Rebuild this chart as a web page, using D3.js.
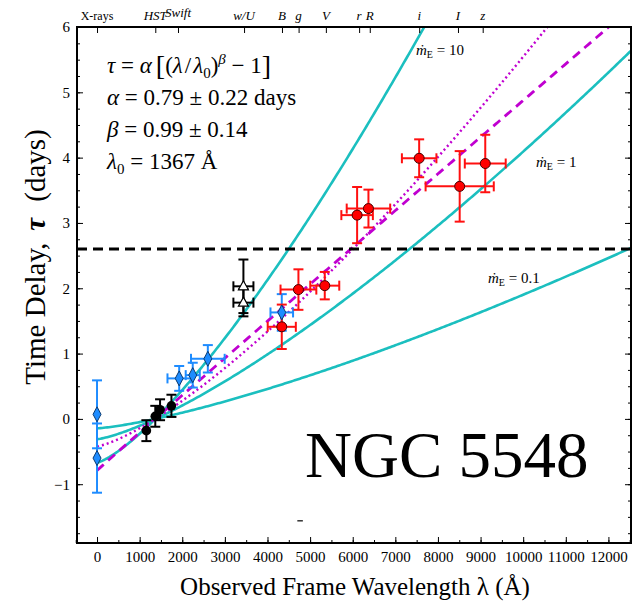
<!DOCTYPE html>
<html>
<head>
<meta charset="utf-8">
<script src="https://cdn.jsdelivr.net/npm/d3@7"></script>
<style>
  body { margin: 0; background: #fff; }
  text { font-family: "Liberation Serif", "Times New Roman", serif; }
</style>
</head>
<body>
<svg id="chart" width="635" height="603"></svg>
<script>
// band labels along the top
const bandNames = ["X-rays", "HST", "Swift", "w/U", "B", "g", "V", "r", "R", "i", "I", "z"];
const bandWaves = [0, 1367, 1900, 3450, 4340, 4730, 5370, 6150, 6400, 7560, 8470, 9050];

// X-ray diamonds
const xrayLam = [0, 0];
const xrayTau = [0.07, -0.60];
const xrayErr = [0.52, 0.53];

// HST black circles
const hstLam = [1158, 1367, 1479, 1746];
const hstTau = [-0.18, 0.04, 0.14, 0.20];
const hstErr = [0.16, 0.16, 0.16, 0.17];

// Swift blue diamonds
const swiftLam = [1928, 2246, 2600, 4335];
const swiftTau = [0.62, 0.67, 0.92, 1.63];
const swiftErr = [0.19, 0.19, 0.21, 0.28];
const swiftLamErr = [275, 165, 395, 265];

// Swift U open triangles
const triLam = [3435, 3435];
const triTau = [2.03, 1.78];
const triErr = [0.41, 0.21];
const triLamErr = [235, 235];

// ground-based red circles
const groundLam = [4335, 4726, 5344, 6103, 6369, 7559, 8510, 9110];
const groundTau = [1.41, 1.98, 2.04, 3.12, 3.22, 3.99, 3.56, 3.91];
const groundErr = [0.34, 0.31, 0.21, 0.43, 0.29, 0.29, 0.54, 0.44];
const groundLamErr = [330, 420, 340, 370, 510, 405, 800, 480];

// fits and disk models: tau = A[(lam/lam0)^b - 1]
const lam0 = 1367;
const fitAlpha = [0.79, 0.42];
const fitBeta = [0.99, 4 / 3];
const diskNames = ["10", "1", "0.1"];
const diskAmp = [0.668, 0.31, 0.144];
const lagLine = 2.6;

const margin = {top: 27, right: 4, bottom: 60, left: 77};
const width = 635, height = 603;

const svg = d3.select("#chart");

const x = d3.scaleLinear().domain([-470, 12530]).range([margin.left, width - margin.right]);
const y = d3.scaleLinear().domain([-1.9, 6]).range([height - margin.bottom, margin.top]);

svg.append("clipPath").attr("id", "plotclip")
  .append("rect")
  .attr("x", margin.left).attr("y", margin.top)
  .attr("width", width - margin.left - margin.right)
  .attr("height", height - margin.top - margin.bottom);

const plot = svg.append("g").attr("clip-path", "url(#plotclip)");

// model curves
const lamGrid = d3.range(0, 12601, 40);
const line = d3.line().x(d => x(d[0])).y(d => y(d[1]));

diskAmp.forEach(a => {
  plot.append("path")
    .datum(lamGrid.map(l => [l, a * (Math.pow(l / lam0, 4 / 3) - 1)]))
    .attr("d", line)
    .attr("fill", "none")
    .attr("stroke", "#1bbfbf")
    .attr("stroke-width", 2.6);
});

plot.append("path")
  .datum(lamGrid.map(l => [l, fitAlpha[1] * (Math.pow(l / lam0, fitBeta[1]) - 1)]))
  .attr("d", line)
  .attr("fill", "none")
  .attr("stroke", "#c000d0")
  .attr("stroke-width", 2.4)
  .attr("stroke-dasharray", "2,3");

plot.append("path")
  .datum(lamGrid.map(l => [l, fitAlpha[0] * (Math.pow(l / lam0, fitBeta[0]) - 1)]))
  .attr("d", line)
  .attr("fill", "none")
  .attr("stroke", "#c000d0")
  .attr("stroke-width", 2.8)
  .attr("stroke-dasharray", "9,6");

// horizontal lag line
plot.append("line")
  .attr("x1", margin.left).attr("x2", width - margin.right)
  .attr("y1", y(lagLine)).attr("y2", y(lagLine))
  .attr("stroke", "#000")
  .attr("stroke-width", 3)
  .attr("stroke-dasharray", "10,6");

// stray mark
plot.append("line")
  .attr("x1", x(4700)).attr("x2", x(4830))
  .attr("y1", y(-1.56)).attr("y2", y(-1.56))
  .attr("stroke", "#333").attr("stroke-width", 1.5);

// error bars
function errorBars(lams, taus, errs, lamErrs, color) {
  const g = plot.append("g").attr("stroke", color).attr("stroke-width", 2);
  lams.forEach((l, i) => {
    const cx = x(l), t = taus[i];
    const y1 = y(t + errs[i]), y2 = y(t - errs[i]);
    g.append("line").attr("x1", cx).attr("x2", cx).attr("y1", y1).attr("y2", y2);
    g.append("line").attr("x1", cx - 5).attr("x2", cx + 5).attr("y1", y1).attr("y2", y1);
    g.append("line").attr("x1", cx - 5).attr("x2", cx + 5).attr("y1", y2).attr("y2", y2);
    if (lamErrs && lamErrs[i] > 0) {
      const xa = x(l - lamErrs[i]), xb = x(l + lamErrs[i]), cy = y(t);
      g.append("line").attr("x1", xa).attr("x2", xb).attr("y1", cy).attr("y2", cy);
      g.append("line").attr("x1", xa).attr("x2", xa).attr("y1", cy - 5).attr("y2", cy + 5);
      g.append("line").attr("x1", xb).attr("x2", xb).attr("y1", cy - 5).attr("y2", cy + 5);
    }
  });
}

errorBars(xrayLam, xrayTau, xrayErr, null, "#1e8cff");
errorBars(hstLam, hstTau, hstErr, null, "#000");
errorBars(swiftLam, swiftTau, swiftErr, swiftLamErr, "#1e8cff");
errorBars(triLam, triTau, triErr, triLamErr, "#000");
errorBars(groundLam, groundTau, groundErr, groundLamErr, "#ff1010");

// markers
const diamond = "M0,-7.5L4,0L0,7.5L-4,0Z";

function diamonds(lams, taus) {
  plot.append("g").selectAll("path").data(lams).join("path")
    .attr("d", diamond)
    .attr("transform", (d, i) => `translate(${x(d)},${y(taus[i])})`)
    .attr("fill", "#1e8cff")
    .attr("stroke", "#0a3a70")
    .attr("stroke-width", 1);
}
diamonds(xrayLam, xrayTau);
diamonds(swiftLam, swiftTau);

plot.append("g").selectAll("circle").data(hstLam).join("circle")
  .attr("cx", d => x(d)).attr("cy", (d, i) => y(hstTau[i]))
  .attr("r", 4.8).attr("fill", "#000");

plot.append("g").selectAll("circle").data(groundLam).join("circle")
  .attr("cx", d => x(d)).attr("cy", (d, i) => y(groundTau[i]))
  .attr("r", 5).attr("fill", "#ff0000")
  .attr("stroke", "#400").attr("stroke-width", 1);

plot.append("g").selectAll("path").data(triLam).join("path")
  .attr("d", "M0,-5.5L5,3.5L-5,3.5Z")
  .attr("transform", (d, i) => `translate(${x(d)},${y(triTau[i])})`)
  .attr("fill", "#fff").attr("stroke", "#000").attr("stroke-width", 1.2);

// axes
const xAxis = d3.axisBottom(x).tickValues(d3.range(0, 12001, 1000))
  .tickSize(-6).tickPadding(8).tickFormat(d3.format("d"));
const xg = svg.append("g").attr("transform", `translate(0,${height - margin.bottom})`).call(xAxis);
svg.append("g").attr("transform", `translate(0,${height - margin.bottom})`)
  .call(d3.axisBottom(x).tickValues(d3.range(-500, 12501, 500)).tickSize(-3).tickFormat(""));

const yAxis = d3.axisLeft(y).tickValues(d3.range(-1, 7, 1)).tickSize(-6).tickPadding(7)
  .tickFormat(d => d < 0 ? "\u2212" + Math.abs(d) : d);
const yg = svg.append("g").attr("transform", `translate(${margin.left},0)`).call(yAxis);
svg.append("g").attr("transform", `translate(${margin.left},0)`)
  .call(d3.axisLeft(y).tickValues(d3.range(-1.75, 6, 0.25)).tickSize(-3).tickFormat(""));

svg.append("g").attr("transform", `translate(${width - margin.right},0)`)
  .call(d3.axisRight(y).tickValues(d3.range(-1, 7, 1)).tickSize(-6).tickFormat(""));
svg.append("g").attr("transform", `translate(${width - margin.right},0)`)
  .call(d3.axisRight(y).tickValues(d3.range(-1.75, 6, 0.25)).tickSize(-3).tickFormat(""));

svg.append("g").attr("transform", `translate(0,${margin.top})`)
  .call(d3.axisTop(x).tickValues(bandWaves).tickSize(-6).tickFormat(""));

svg.selectAll(".domain").remove();
svg.selectAll(".tick line").attr("stroke", "#000").attr("stroke-width", 1);
[xg, yg].forEach(g => g.selectAll("text")
  .attr("font-family", "Liberation Serif").attr("font-size", 15).attr("fill", "#000"));

// frame
svg.append("rect")
  .attr("x", margin.left).attr("y", margin.top)
  .attr("width", width - margin.left - margin.right)
  .attr("height", height - margin.top - margin.bottom)
  .attr("fill", "none").attr("stroke", "#000").attr("stroke-width", 2);

// top band labels
bandNames.forEach((n, i) => {
  svg.append("text")
    .attr("x", x(bandWaves[i]))
    .attr("y", n === "Swift" ? 17 : 20)
    .attr("text-anchor", "middle")
    .attr("font-size", n === "X-rays" ? 12 : 13)
    .attr("font-style", n === "X-rays" ? "normal" : "italic")
    .text(n);
});

// axis titles
svg.append("text")
  .attr("x", 355).attr("y", 595)
  .attr("text-anchor", "middle")
  .attr("font-size", 25)
  .text("Observed Frame Wavelength \u03bb (\u00c5)");

const yt = svg.append("text")
  .attr("transform", "translate(45,257) rotate(-90)")
  .attr("text-anchor", "middle")
  .attr("font-size", 29);
yt.append("tspan").text("Time Delay,");
yt.append("tspan").attr("dx", 12).attr("font-style", "italic").attr("font-weight", "bold").text("\u03c4");
yt.append("tspan").attr("dx", 16).text("(days)");

// equation block
const eqX = 107;
const eq1 = svg.append("text").attr("x", eqX).attr("y", 73).attr("font-size", 23);
eq1.append("tspan").attr("font-style", "italic").text("\u03c4");
eq1.append("tspan").text(" = ");
eq1.append("tspan").attr("font-style", "italic").text("\u03b1");
eq1.append("tspan").attr("dx", 4).attr("font-size", 28).attr("dy", 2).text("[");
eq1.append("tspan").attr("dy", -2).text("(");
eq1.append("tspan").attr("font-style", "italic").text("\u03bb");
eq1.append("tspan").attr("dx", 2).text("/");
eq1.append("tspan").attr("dx", 2).attr("font-style", "italic").text("\u03bb");
eq1.append("tspan").attr("font-size", 15).attr("dy", 5).text("0");
eq1.append("tspan").attr("dy", -5).text(")");
eq1.append("tspan").attr("font-size", 15).attr("dy", -9).attr("font-style", "italic").text("\u03b2");
eq1.append("tspan").attr("dy", 9).text(" \u2212 1");
eq1.append("tspan").attr("font-size", 28).attr("dy", 2).text("]");

const eq2 = svg.append("text").attr("x", eqX).attr("y", 105).attr("font-size", 23);
eq2.append("tspan").attr("font-style", "italic").text("\u03b1");
eq2.append("tspan").text(" = " + fitAlpha[0].toFixed(2) + " \u00b1 0.22 days");

const eq3 = svg.append("text").attr("x", eqX).attr("y", 137).attr("font-size", 23);
eq3.append("tspan").attr("font-style", "italic").text("\u03b2");
eq3.append("tspan").text(" = " + fitBeta[0].toFixed(2) + " \u00b1 0.14");

const eq4 = svg.append("text").attr("x", eqX).attr("y", 169).attr("font-size", 23);
eq4.append("tspan").attr("font-style", "italic").text("\u03bb");
eq4.append("tspan").attr("font-size", 15).attr("dy", 5).text("0");
eq4.append("tspan").attr("dy", -5).text(" = " + lam0 + " \u00c5");

// disk labels
const diskLabelPos = [[416, 55], [536, 167], [488, 283]];
diskNames.forEach((n, i) => {
  const t = svg.append("text")
    .attr("x", diskLabelPos[i][0]).attr("y", diskLabelPos[i][1])
    .attr("font-size", 15);
  t.append("tspan").attr("font-style", "italic").text("\u1e41");
  t.append("tspan").attr("font-size", 10).attr("dy", 3).text("E");
  t.append("tspan").attr("dy", -3).text(" = " + n);
});

// object name
svg.append("text")
  .attr("x", 305).attr("y", 477)
  .attr("font-size", 65)
  .text("NGC 5548");
</script>
</body>
</html>
